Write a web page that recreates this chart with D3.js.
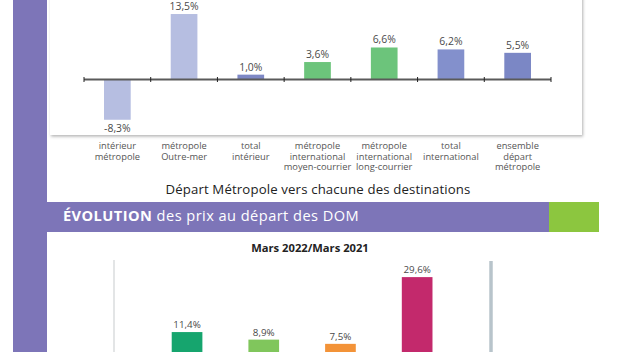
<!DOCTYPE html>
<html>
<head>
<meta charset="utf-8">
<script src="https://cdn.jsdelivr.net/npm/d3@7"></script>
<style>
  body { margin: 0; background: #fff; }
  svg { display: block; font-family: "Open Sans", "Noto Sans", sans-serif; }
</style>
</head>
<body>
<div id="chart"></div>
<script>
// top chart : départ métropole
var topCats = ["interieurMetro", "metroOM", "totalInt", "metroMoyen", "metroLong", "totalIntl", "ensemble"];
var topLabels = [
    ["intérieur", "métropole"],
    ["métropole", "Outre-mer"],
    ["total", "intérieur"],
    ["métropole", "international", "moyen-courrier"],
    ["métropole", "international", "long-courrier"],
    ["total", "international"],
    ["ensemble", "départ", "métropole"]
];
var topValues = [-8.3, 13.5, 1.0, 3.6, 6.6, 6.2, 5.5];
var topColors = ["#b6bee1", "#b6bee1", "#7e88c5", "#6cc47b", "#6cc47b", "#8390cc", "#7b87c5"];

// bottom chart : départ DOM (only the upper part is visible)
var botCats = ["dom1", "dom2", "dom3", "dom4"];
var botValues = [11.4, 8.9, 7.5, 29.6];
var botColors = ["#16a56e", "#80c65c", "#f39338", "#c3296c"];

var ctx = {
    w: 626,
    h: 352,
    purple: "#7d75b8",
    textGrey: "#555"
};

var fmt = function(v) {
    return v.toFixed(1).replace(".", ",") + "%";
};

var svgEl = d3.select("#chart").append("svg")
    .attr("width", ctx.w)
    .attr("height", ctx.h);

var defs = svgEl.append("defs");
var shadow = defs.append("filter")
    .attr("id", "shadow")
    .attr("x", "-5%").attr("y", "-5%")
    .attr("width", "110%").attr("height", "120%");
shadow.append("feDropShadow")
    .attr("dx", 1).attr("dy", 1.5)
    .attr("stdDeviation", 1.5)
    .attr("flood-color", "#000")
    .attr("flood-opacity", 0.3);

// left purple strip
svgEl.append("rect")
    .attr("x", 13).attr("y", 0)
    .attr("width", 34).attr("height", ctx.h)
    .attr("fill", ctx.purple);

// white card of top chart
svgEl.append("rect")
    .attr("x", 50).attr("y", -10)
    .attr("width", 532).attr("height", 145)
    .attr("fill", "#fff")
    .attr("filter", "url(#shadow)");

var x = d3.scaleBand()
    .domain(topCats)
    .range([84, 551]);

var y = d3.scaleLinear()
    .domain([-10, 15])
    .range([128, 6.75]);

var topG = svgEl.append("g").attr("class", "topChart");

topG.selectAll("rect.bar")
    .data(topValues)
    .enter()
    .append("rect")
    .attr("class", "bar")
    .attr("x", (d, i) => x(topCats[i]) + x.bandwidth() * 0.3)
    .attr("width", x.bandwidth() * 0.4)
    .attr("y", (d) => y(Math.max(0, d)))
    .attr("height", (d) => Math.abs(y(d) - y(0)))
    .attr("fill", (d, i) => topColors[i]);

// zero axis with ticks at band edges
topG.append("line")
    .attr("x1", x.range()[0]).attr("x2", x.range()[1])
    .attr("y1", y(0)).attr("y2", y(0))
    .attr("stroke", "#5a5a5a")
    .attr("stroke-width", 1.8);

var edges = topCats.map((c) => x(c)).concat([x.range()[1]]);
topG.selectAll("line.tick")
    .data(edges)
    .enter()
    .append("line")
    .attr("class", "tick")
    .attr("x1", (d) => d).attr("x2", (d) => d)
    .attr("y1", y(0) - 2.5).attr("y2", y(0) + 2.5)
    .attr("stroke", "#222")
    .attr("stroke-width", 1);

topG.selectAll("text.val")
    .data(topValues)
    .enter()
    .append("text")
    .attr("class", "val")
    .attr("x", (d, i) => x(topCats[i]) + x.bandwidth() / 2)
    .attr("y", (d) => d < 0 ? y(d) + 12 : y(d) - 4)
    .attr("text-anchor", "middle")
    .attr("font-size", "10.4px")
    .attr("fill", "#4a4a4a")
    .text(fmt);

// category labels under the card
topLabels.forEach(function(lines, i) {
    var t = topG.append("text")
        .attr("text-anchor", "middle")
        .attr("font-size", "9.3px")
        .attr("fill", ctx.textGrey);
    lines.forEach(function(l, j) {
        t.append("tspan")
            .attr("x", x(topCats[i]) + x.bandwidth() / 2)
            .attr("y", 149 + j * 10.5)
            .text(l);
    });
});

svgEl.append("text")
    .attr("x", 318)
    .attr("y", 194)
    .attr("text-anchor", "middle")
    .attr("font-size", "13.2px")
    .attr("letter-spacing", "0.15px")
    .attr("fill", "#222")
    .text("Départ Métropole vers chacune des destinations");

// section banner
svgEl.append("rect")
    .attr("x", 13).attr("y", 202)
    .attr("width", 536).attr("height", 30)
    .attr("fill", ctx.purple);
svgEl.append("rect")
    .attr("x", 549).attr("y", 202)
    .attr("width", 50).attr("height", 30)
    .attr("fill", "#8cc63f");
svgEl.append("rect")
    .attr("x", 47).attr("y", 232)
    .attr("width", 579).attr("height", 120)
    .attr("fill", "#fff");

var banner = svgEl.append("text")
    .attr("x", 63)
    .attr("y", 221)
    .attr("font-size", "14.6px")
    .attr("letter-spacing", "0.45px")
    .attr("fill", "#fff");
banner.append("tspan").attr("font-weight", "bold").text("ÉVOLUTION");
banner.append("tspan").text(" des prix au départ des DOM");

// bottom chart
svgEl.append("text")
    .attr("x", 310)
    .attr("y", 252)
    .attr("text-anchor", "middle")
    .attr("font-size", "11.2px")
    .attr("font-weight", "bold")
    .attr("fill", "#222")
    .text("Mars 2022/Mars 2021");

svgEl.append("line")
    .attr("x1", 114).attr("x2", 114)
    .attr("y1", 260).attr("y2", ctx.h)
    .attr("stroke", "#e3e5e6")
    .attr("stroke-width", 2);
svgEl.append("line")
    .attr("x1", 491).attr("x2", 491)
    .attr("y1", 261).attr("y2", ctx.h)
    .attr("stroke", "#b8c4cb")
    .attr("stroke-width", 3.5);

var xb = d3.scaleBand()
    .domain(botCats)
    .range([148.7, 455.5]);

var yb = d3.scaleLinear()
    .domain([0, 30])
    .range([366.5, 275.9]);

var botG = svgEl.append("g").attr("class", "botChart");

botG.selectAll("rect")
    .data(botValues)
    .enter()
    .append("rect")
    .attr("x", (d, i) => xb(botCats[i]) + xb.bandwidth() * 0.3)
    .attr("width", xb.bandwidth() * 0.4)
    .attr("y", (d) => yb(d))
    .attr("height", (d) => yb(0) - yb(d))
    .attr("fill", (d, i) => botColors[i]);

botG.selectAll("text")
    .data(botValues)
    .enter()
    .append("text")
    .attr("x", (d, i) => xb(botCats[i]) + xb.bandwidth() / 2)
    .attr("y", (d) => yb(d) - 4)
    .attr("text-anchor", "middle")
    .attr("font-size", "9.8px")
    .attr("fill", "#4a4a4a")
    .text(fmt);
</script>
</body>
</html>
